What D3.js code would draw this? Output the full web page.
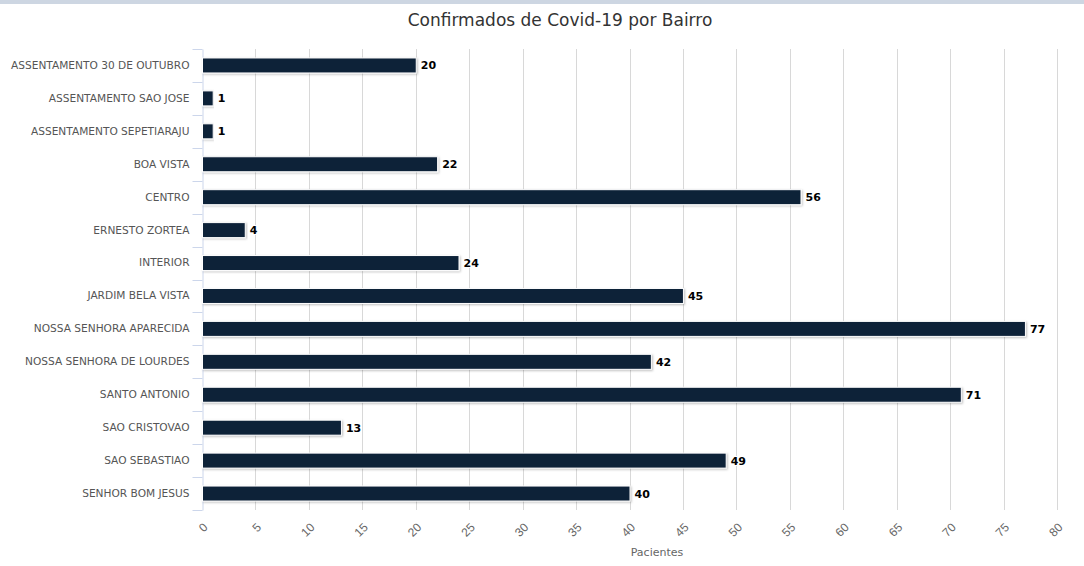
<!DOCTYPE html>
<html>
<head>
<meta charset="utf-8">
<script src="https://cdn.jsdelivr.net/npm/d3@7"></script>
<style>
  body { margin: 0; background: #fff; }
  svg { display: block; font-family: "DejaVu Sans", Verdana, sans-serif; }
</style>
</head>
<body>
<svg width="1084" height="566"></svg>
<script>
// bairros e casos confirmados
var bairros = ["ASSENTAMENTO 30 DE OUTUBRO", "ASSENTAMENTO SAO JOSE", "ASSENTAMENTO SEPETIARAJU",
  "BOA VISTA", "CENTRO", "ERNESTO ZORTEA", "INTERIOR", "JARDIM BELA VISTA",
  "NOSSA SENHORA APARECIDA", "NOSSA SENHORA DE LOURDES", "SANTO ANTONIO",
  "SAO CRISTOVAO", "SAO SEBASTIAO", "SENHOR BOM JESUS"];
var casos = [20, 1, 1, 22, 56, 4, 24, 45, 77, 42, 71, 13, 49, 40];
var xTicks = d3.range(0, 85, 5);

var width = 1084, height = 566;
var plotLeft = 202, plotRight = 1057, plotTop = 49, plotBottom = 510;

var svg = d3.select("svg");

// faixa no topo
svg.append("rect").attr("x", 0).attr("y", 0).attr("width", width).attr("height", 4)
  .attr("fill", "#cdd6e2");

var x = d3.scaleLinear().domain([0, 80]).range([plotLeft, plotRight]);
var y = d3.scaleBand().domain(bairros).range([plotTop, plotBottom]).paddingInner(0).paddingOuter(0);

// sombra das barras
var defs = svg.append("defs");
var f = defs.append("filter").attr("id", "sh").attr("x", "-5%").attr("y", "-50%")
  .attr("width", "110%").attr("height", "200%");
f.append("feDropShadow").attr("dx", 1).attr("dy", 1).attr("stdDeviation", 1)
  .attr("flood-color", "#000").attr("flood-opacity", 0.25);

// gridlines
svg.append("g").selectAll("line").data(xTicks.slice(1)).enter().append("line")
  .attr("x1", function(d) { return Math.round(x(d)) + 0.5; })
  .attr("x2", function(d) { return Math.round(x(d)) + 0.5; })
  .attr("y1", plotTop).attr("y2", plotBottom)
  .attr("stroke", "#d8d8d8").attr("stroke-width", 1);

// eixo y
var yAxis = svg.append("g").attr("transform", "translate(" + (plotLeft + 0.5) + ",0)")
  .call(d3.axisLeft(y).tickSize(0).tickPadding(13));
yAxis.select(".domain").attr("stroke", "#ccd6eb");
yAxis.selectAll("text").attr("fill", "#555").style("font-size", "10.6px")
  .style("font-family", "'DejaVu Sans', sans-serif");
// ticks entre categorias
var bounds = bairros.map(function(d) { return y(d); }).concat([plotBottom]);
yAxis.selectAll(".sep").data(bounds).enter().append("line").attr("class", "sep")
  .attr("x1", -10).attr("x2", 0)
  .attr("y1", function(d) { return Math.round(d) + 0.5; })
  .attr("y2", function(d) { return Math.round(d) + 0.5; })
  .attr("stroke", "#ccd6eb");

// eixo x
var xAxis = svg.append("g").attr("transform", "translate(0," + plotBottom + ")")
  .call(d3.axisBottom(x).tickValues(xTicks).tickSize(0).tickPadding(0));
xAxis.select(".domain").remove();
xAxis.selectAll("text")
  .attr("fill", "#666").style("font-size", "12px")
  .attr("text-anchor", "end")
  .attr("dy", null).attr("y", 0)
  .attr("transform", "translate(6,18) rotate(-45)");

svg.append("text").attr("x", 657).attr("y", 556)
  .attr("text-anchor", "middle").attr("fill", "#666").style("font-size", "11px")
  .text("Pacientes");

// barras
var bh = 15;
svg.append("g").selectAll("rect").data(casos).enter().append("rect")
  .attr("x", x(0) + 0.5)
  .attr("y", function(d, i) { return y(bairros[i]) + y.bandwidth() / 2 - bh / 2; })
  .attr("width", function(d) { return x(d) - x(0); })
  .attr("height", bh)
  .attr("fill", "#0f2239")
  .attr("stroke", "#fff").attr("stroke-width", 1)
  .attr("filter", "url(#sh)");

// rotulos
svg.append("g").selectAll("text").data(casos).enter().append("text")
  .attr("x", function(d) { return x(d) + 5; })
  .attr("y", function(d, i) { return y(bairros[i]) + y.bandwidth() / 2 + 4; })
  .attr("fill", "#000").style("font-size", "11px").style("font-weight", "bold")
  .attr("stroke", "#fff").attr("stroke-width", 2).attr("paint-order", "stroke")
  .text(function(d) { return d; });

// titulo
svg.append("text").attr("x", 560).attr("y", 26).attr("text-anchor", "middle")
  .attr("fill", "#333").style("font-size", "17px")
  .text("Confirmados de Covid-19 por Bairro");
</script>
</body>
</html>
